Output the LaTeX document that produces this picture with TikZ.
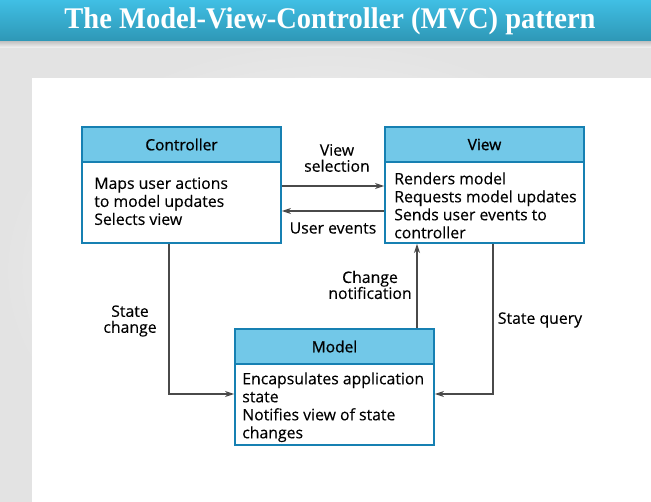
\documentclass[tikz,border=0pt]{standalone}
\usepackage{fontspec}
\usepackage{graphicx}
\setmainfont{Liberation Serif}
\newfontfamily\diafont[FakeBold=0.25]{Open Sans}
\newfontfamily\hdrfont[FakeBold=0.9]{Open Sans}
\usetikzlibrary{arrows.meta,calc}
\definecolor{barTop}{HTML}{40BFE4}
\definecolor{barBot}{HTML}{2E97B6}
\definecolor{hdrFill}{HTML}{72C8E8}
\definecolor{boxLine}{HTML}{1680B2}
\definecolor{conn}{HTML}{4A4A4A}
\tikzset{
  classbox/.style={draw=boxLine, line width=1.8pt, fill=white, minimum width=199pt, inner sep=0pt},
  classhdr/.style={draw=boxLine, line width=1.8pt, fill=hdrFill, minimum width=199pt, minimum height=35pt, inner sep=0pt, font=\hdrfont\fontsize{15.5}{17}\selectfont},
  bodytext/.style={anchor=north west, align=left, inner sep=0pt, font=\diafont\fontsize{15.8}{18}\selectfont},
  lbl/.style={align=center, inner sep=0pt, font=\diafont\fontsize{15.8}{16}\selectfont},
  arr/.style={draw=conn, line width=1.2pt, -{Stealth[length=9pt,width=6pt,inset=2.5pt]}},
}
\begin{document}
\begin{tikzpicture}[x=1pt,y=-1pt]
\useasboundingbox (0,0) rectangle (651,502);
% background
\shade[inner color=gray!4, outer color=gray!22] (0,40) rectangle (651,502);
\fill[white] (32,78) rectangle (651,502);
% title bar
\shade[top color=gray!55, bottom color=gray!8] (0,40) rectangle (651,48);
\shade[top color=barTop, bottom color=barBot] (0,0) rectangle (651,41);
\node[text=white, font=\bfseries\fontsize{30}{32}\selectfont, inner sep=0pt] (title) at (330,21) {\scalebox{0.95}[1]{The Model-View-Controller (MVC) pattern}};
% boxes
\node[classbox, minimum height=116pt] (ctrl) at (181.5,185) {};
\node[classhdr, anchor=north] (ctrlh) at (ctrl.north) {Controller};
\node[bodytext] (ctrlt) at ($(ctrl.north west)+(13,51)$) {Maps user actions\\to model updates\\Selects view};

\node[classbox, minimum height=116pt] (view) at (484.5,185) {};
\node[classhdr, anchor=north] (viewh) at (view.north) {View};
\node[bodytext] (viewt) at ($(view.north west)+(10,46)$) {Renders model\\Requests model updates\\Sends user events to\\controller};

\node[classbox, minimum height=116pt] (model) at (334.5,387) {};
\node[classhdr, anchor=north] (modelh) at (model.north) {Model};
\node[bodytext] (modelt) at ($(model.north west)+(8,44)$) {Encapsulates application\\state\\Notifies view of state\\changes};
% connectors
\draw[arr] (ctrl.east |- 0,186) -- (view.west |- 0,186);
\draw[arr] (view.west |- 0,211) -- (ctrl.east |- 0,211);
\node[lbl] (vsel) at (337,158) {View\\selection};
\node[lbl] (uev) at (333,228) {User events};

\coordinate (scb) at (169,394);
\draw[arr] (ctrl.south -| scb) -- (scb) -- (model.west |- scb);
\node[lbl] (sch) at (130,321) {State\\change};

\coordinate (sqb) at (493,394);
\draw[arr] (view.south -| sqb) -- (sqb) -- (model.east |- sqb);
\node[lbl] (sq) at (540,320) {State query};

\coordinate (cnx) at (417,0);
\draw[arr] (model.north -| cnx) -- (view.south -| cnx);
\node[lbl] (cn) at (370,285) {Change\\notification};
\end{tikzpicture}
\end{document}
